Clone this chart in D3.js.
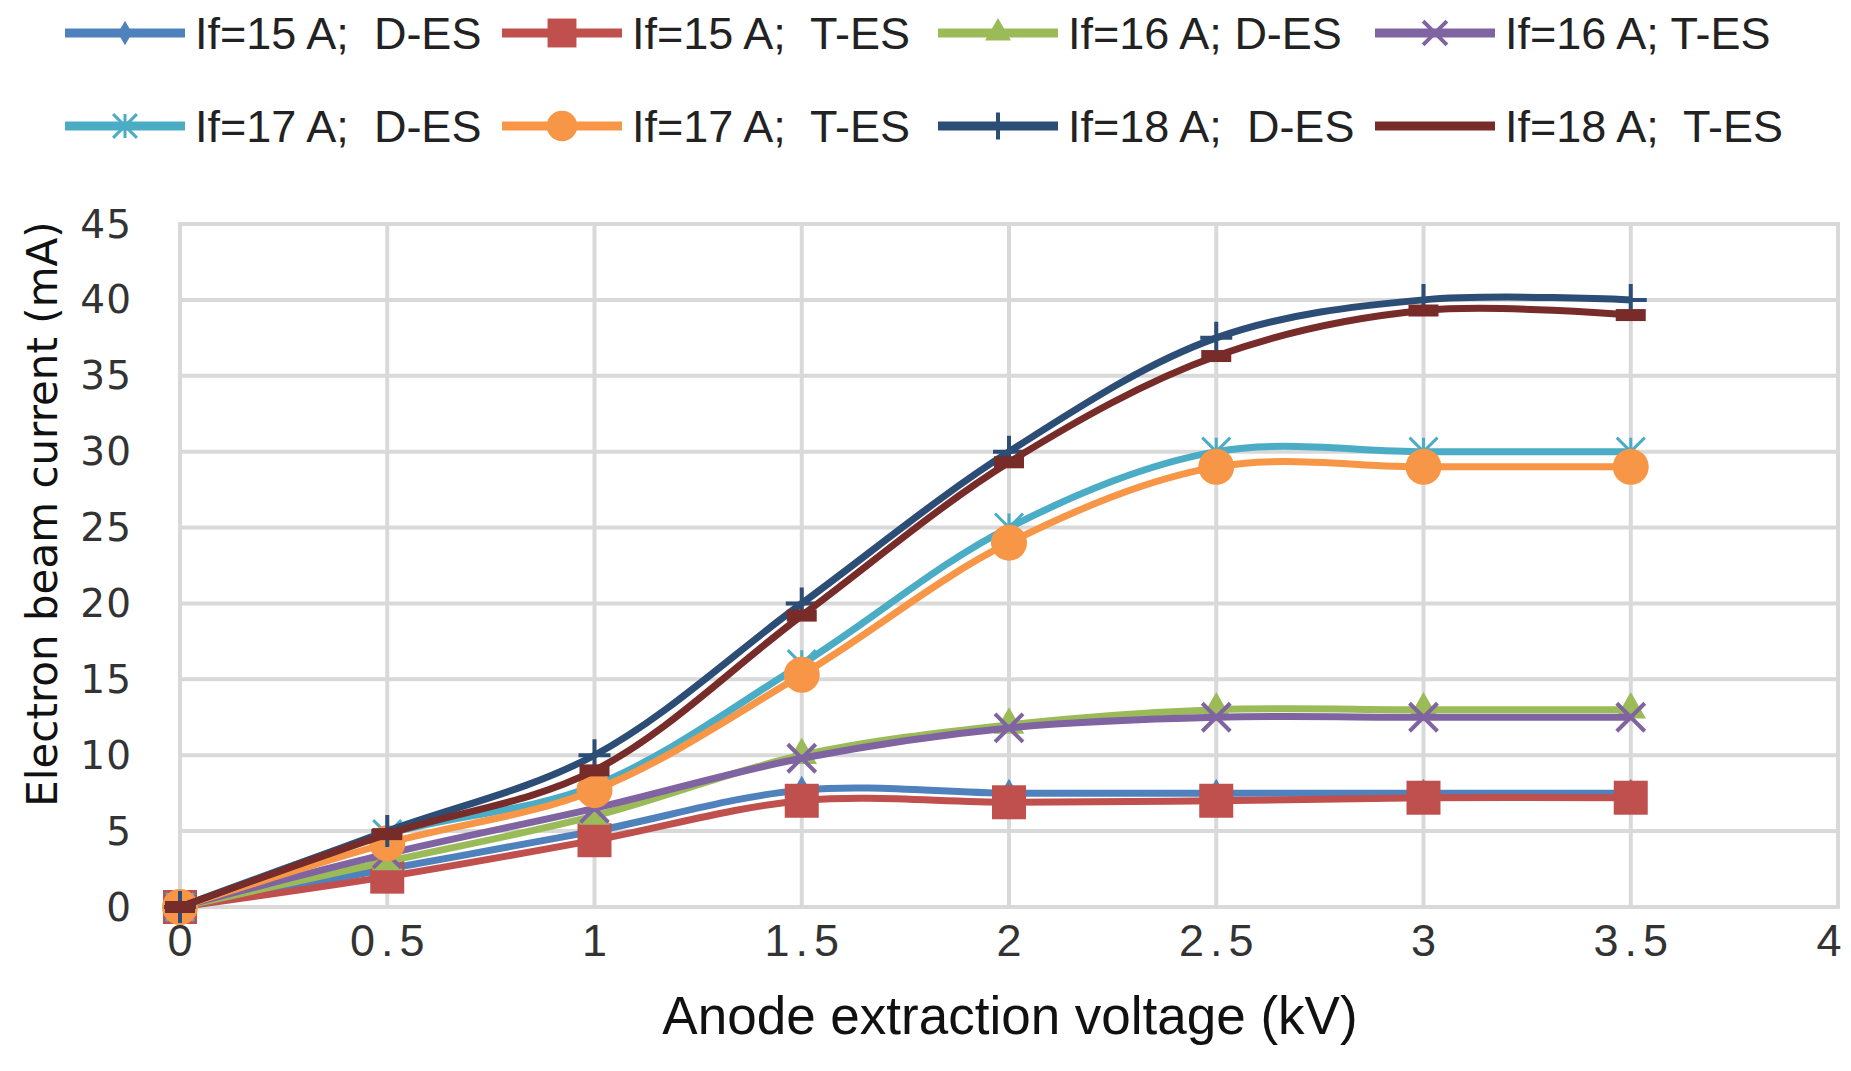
<!DOCTYPE html>
<html>
<head>
<meta charset="utf-8">
<script src="https://cdn.jsdelivr.net/npm/d3@7"></script>
<style>
  body { margin: 0; background: #fff; }
  svg { display: block; }
</style>
</head>
<body>
<div id="chart"></div>
<script>
"use strict";
// voltages (kV)
var voltages = [0, 0.5, 1, 1.5, 2, 2.5, 3, 3.5];
var seriesNames = ['If=15 A;  D-ES', 'If=15 A;  T-ES', 'If=16 A; D-ES', 'If=16 A; T-ES',
                   'If=17 A;  D-ES', 'If=17 A;  T-ES', 'If=18 A;  D-ES', 'If=18 A;  T-ES'];
var if15D = [0, 2.5, 5.0, 7.7, 7.5, 7.5, 7.5, 7.5];
var if15T = [0, 2.0, 4.4, 7.0, 6.9, 7.0, 7.2, 7.2];
var if16D = [0, 3.0, 6.0, 10.0, 12.0, 13.0, 13.0, 13.0];
var if16T = [0, 3.5, 6.5, 9.8, 11.8, 12.5, 12.5, 12.5];
var if17D = [0, 4.8, 8.0, 16.0, 25.0, 30.0, 30.0, 30.0];
var if17T = [0, 4.2, 7.7, 15.3, 24.0, 29.0, 29.0, 29.0];
var if18D = [0, 5.0, 10.0, 20.0, 30.0, 37.5, 40.0, 40.0];
var if18T = [0, 4.8, 9.0, 19.2, 29.3, 36.3, 39.3, 39.0];
var xTicks = [0, 0.5, 1, 1.5, 2, 2.5, 3, 3.5, 4];
var yTicks = [0, 5, 10, 15, 20, 25, 30, 35, 40, 45];

var colors = ['#4f81bd', '#c0504d', '#9bbb59', '#8064a2', '#4bacc6', '#f79646', '#2c4d75', '#772c2a'];
var markers = ['diamond', 'square', 'triangle', 'x', 'star', 'circle', 'plus', 'dash'];
var values = [if15D, if15T, if16D, if16T, if17D, if17T, if18D, if18T];

var series = seriesNames.map(function (name, i) {
    return {
        name: name, color: colors[i], marker: markers[i],
        points: voltages.map(function (v, j) { return { x: v, y: values[i][j] }; })
    };
});

var width = 1851, height = 1071;
var plot = { left: 180, right: 1838, top: 224, bottom: 907 };

var svg = d3.select('#chart').append('svg')
    .attr('width', width)
    .attr('height', height);

var x = d3.scaleLinear().domain([0, 4]).range([plot.left, plot.right]);
var y = d3.scaleLinear().domain([0, 45]).range([plot.bottom, plot.top]);

// grid
svg.append('g').selectAll('line.vgrid')
    .data(xTicks)
    .enter().append('line')
    .attr('x1', x).attr('x2', x)
    .attr('y1', plot.top).attr('y2', plot.bottom)
    .attr('stroke', '#d9d9d9').attr('stroke-width', 4);
svg.append('g').selectAll('line.hgrid')
    .data(yTicks)
    .enter().append('line')
    .attr('x1', plot.left - 2).attr('x2', plot.right + 2)
    .attr('y1', y).attr('y2', y)
    .attr('stroke', '#d9d9d9').attr('stroke-width', 4);

// tick labels
svg.append('g').selectAll('text')
    .data(yTicks)
    .enter().append('text')
    .attr('x', 132)
    .attr('y', y)
    .attr('text-anchor', 'end')
    .attr('dominant-baseline', 'central')
    .style('font-family', 'DejaVu Sans, sans-serif')
    .style('font-size', '39px')
    .style('letter-spacing', '1px')
    .attr('fill', '#333')
    .text(function (d) { return d; });
svg.append('g').selectAll('text')
    .data(xTicks)
    .enter().append('text')
    .attr('x', function (d) { return Math.min(x(d) + 3, 1832); })
    .attr('y', 940)
    .attr('text-anchor', 'middle')
    .attr('dominant-baseline', 'central')
    .style('font-family', '"Liberation Sans Narrow", "Liberation Sans", sans-serif')
    .style('font-size', '45px')
    .style('letter-spacing', '6px')
    .attr('fill', '#333')
    .text(function (d) { return d; });

// axis titles
svg.append('text')
    .attr('x', 1010)
    .attr('y', 1015)
    .attr('text-anchor', 'middle')
    .attr('dominant-baseline', 'central')
    .style('font-family', '"Liberation Sans Narrow", "Liberation Sans", sans-serif')
    .style('font-size', '53px')
    .attr('fill', '#111')
    .text('Anode extraction voltage (kV)');
svg.append('text')
    .attr('transform', 'translate(42,514) rotate(-90)')
    .attr('text-anchor', 'middle')
    .attr('dominant-baseline', 'central')
    .style('font-family', 'DejaVu Sans, sans-serif')
    .style('font-size', '42px')
    .attr('fill', '#111')
    .text('Electron beam current (mA)');

function drawMarker(g, type, color, s) {
    if (type === 'diamond') {
        g.append('path').attr('d', d3.symbol(d3.symbolDiamond, s * s * 0.5)()).attr('fill', color);
    } else if (type === 'square') {
        g.append('rect').attr('x', -s / 2).attr('y', -s / 2).attr('width', s).attr('height', s).attr('fill', color);
    } else if (type === 'triangle') {
        g.append('path').attr('d', d3.symbol(d3.symbolTriangle, s * s * 0.45)()).attr('fill', color);
    } else if (type === 'circle') {
        g.append('circle').attr('r', s / 2).attr('fill', color);
    } else if (type === 'x') {
        var h = s / 2;
        g.append('path').attr('d', 'M' + -h + ',' + -h + 'L' + h + ',' + h + 'M' + -h + ',' + h + 'L' + h + ',' + -h)
            .attr('stroke', color).attr('stroke-width', 4);
    } else if (type === 'star') {
        var k = s / 2;
        g.append('path').attr('d', 'M' + -k + ',' + -k + 'L' + k + ',' + k + 'M' + -k + ',' + k + 'L' + k + ',' + -k +
            'M0,' + -k + 'L0,' + k)
            .attr('stroke', color).attr('stroke-width', 3);
    } else if (type === 'plus') {
        var p = s / 2;
        g.append('path').attr('d', 'M' + -p + ',0L' + p + ',0M0,' + -p + 'L0,' + p)
            .attr('stroke', color).attr('stroke-width', 4);
    } else if (type === 'dash') {
        g.append('rect').attr('x', -s / 2).attr('y', -6).attr('width', s).attr('height', 12).attr('fill', color);
    }
}

var markerSize = { diamond: 22, square: 34, triangle: 30, x: 28, star: 28, circle: 36, plus: 32, dash: 30 };

var line = d3.line()
    .x(function (d) { return x(d.x); })
    .y(function (d) { return y(d.y); })
    .curve(d3.curveCatmullRom.alpha(0.5));

series.forEach(function (s) {
    var g = svg.append('g');
    g.append('path')
        .datum(s.points)
        .attr('d', line)
        .attr('fill', 'none')
        .attr('stroke', s.color)
        .attr('stroke-width', 7);
    g.selectAll('g.mk')
        .data(s.points)
        .enter().append('g')
        .attr('transform', function (d) { return 'translate(' + x(d.x) + ',' + y(d.y) + ')'; })
        .each(function () { drawMarker(d3.select(this), s.marker, s.color, markerSize[s.marker]); });
});

// legend
var legX = [65, 502, 938, 1375];
var legY = [33, 126];
series.forEach(function (s, i) {
    var lx = legX[i % 4], ly = legY[Math.floor(i / 4)];
    var g = svg.append('g').attr('transform', 'translate(' + lx + ',' + ly + ')');
    g.append('line')
        .attr('x1', 0).attr('x2', 120)
        .attr('stroke', s.color).attr('stroke-width', 9);
    var mg = g.append('g').attr('transform', 'translate(60,0)');
    if (s.marker !== 'dash') drawMarker(mg, s.marker, s.color, markerSize[s.marker] * 0.85);
    g.append('text')
        .attr('x', 130)
        .attr('y', 0)
        .attr('dominant-baseline', 'central')
        .style('white-space', 'pre')
        .style('font-family', '"Liberation Sans Narrow", "Liberation Sans", sans-serif')
        .style('font-size', '45px')
        .attr('fill', '#222')
        .text(s.name);
});
</script>
</body>
</html>
